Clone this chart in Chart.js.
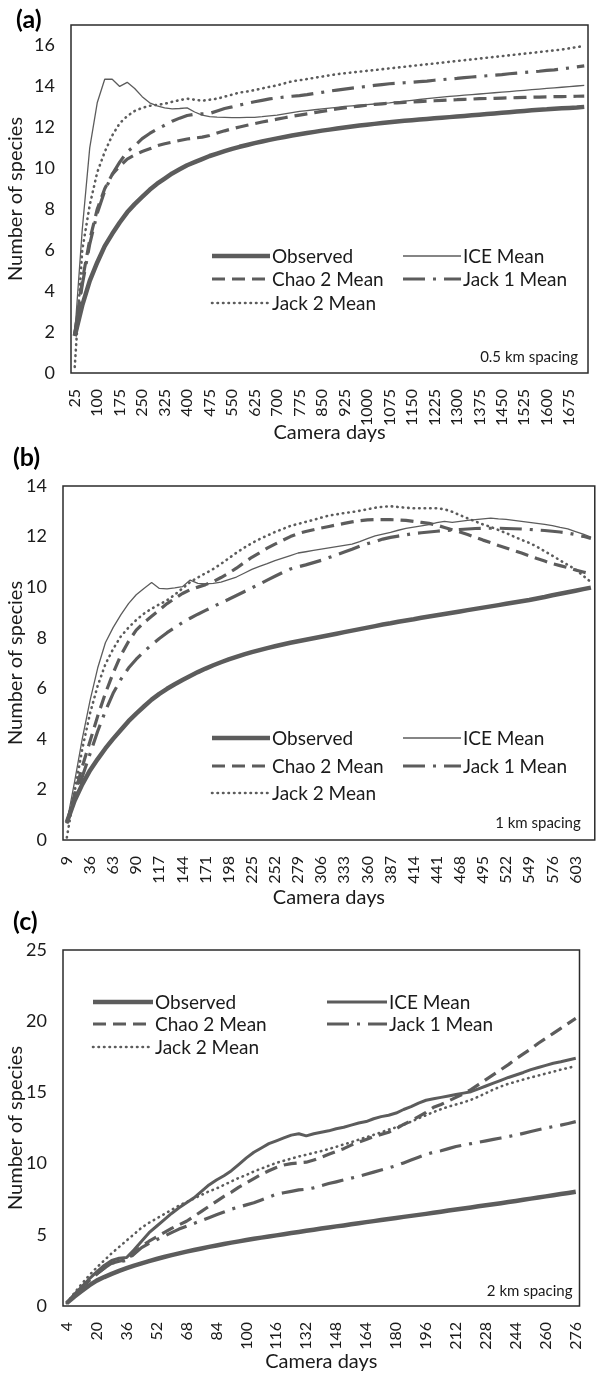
<!DOCTYPE html>
<html>
<head>
<meta charset="utf-8">
<script src="https://cdn.jsdelivr.net/npm/chart.js@4.4.0/dist/chart.umd.min.js"></script>
<style>
  body { margin: 0; background: #fff; }
  #page { position: relative; width: 603px; height: 1375px; }
  .panel { position: absolute; left: 0; width: 603px; }
  .tag { position: absolute; font: bold 25px Lato, sans-serif; color: #000; }
</style>
</head>
<body>
<div id="page">
  <div class="panel" style="top:0;height:445px"><canvas id="chartA"></canvas></div>
  <div class="panel" style="top:445px;height:470px"><canvas id="chartB"></canvas></div>
  <div class="panel" style="top:915px;height:460px"><canvas id="chartC"></canvas></div>
  <div class="tag" style="left:16px;top:3px">(a)</div>
  <div class="tag" style="left:13px;top:441px">(b)</div>
  <div class="tag" style="left:13px;top:905px">(c)</div>
</div>
<script>
// ---- (a) 0.5 km spacing ----
const daysA = [25,50,75,100,125,150,175,200,225,250,275,300,325,350,375,400,425,450,475,500,525,550,575,600,625,650,675,700,725,750,775,800,825,850,875,900,925,950,975,1000,1025,1050,1075,1100,1125,1150,1175,1200,1225,1250,1275,1300,1325,1350,1375,1400,1425,1450,1475,1500,1525,1550,1575,1600,1625,1650,1675,1700,1725];
const ticksA = [25,100,175,250,325,400,475,550,625,700,775,850,925,1000,1075,1150,1225,1300,1375,1450,1525,1600,1675];
const observedA = [1.8,3.3,4.5,5.4,6.2,6.8,7.35,7.85,8.25,8.6,8.95,9.25,9.5,9.75,9.95,10.15,10.3,10.45,10.6,10.72,10.84,10.95,11.05,11.14,11.23,11.31,11.39,11.46,11.53,11.6,
  11.66,11.72,11.78,11.84,11.89,11.94,11.99,12.04,12.09,12.13,12.17,12.21,12.25,12.29,12.32,12.35,12.38,12.41,12.44,12.47,12.5,12.53,12.56,12.59,12.62,12.65,12.68,12.71,12.74,12.77,12.8,12.83,12.86,12.88,12.91,12.93,12.95,12.97,13.0];
const iceA = [1.9,7.0,11.0,13.2,14.35,14.35,14.0,14.2,13.9,13.5,13.2,13.05,12.95,12.9,12.92,12.95,12.75,12.6,12.52,12.5,12.49,12.48,12.48,12.49,12.49,12.52,12.56,12.6,12.66,12.72,
  12.78,12.82,12.86,12.9,12.94,12.98,13.02,13.05,13.08,13.11,13.14,13.17,13.2,13.24,13.28,13.32,13.36,13.4,13.44,13.48,13.51,13.54,13.57,13.6,13.63,13.66,13.69,13.72,13.75,13.78,13.81,13.84,13.87,13.9,13.93,13.96,13.99,14.02,14.05];
const chao2A = [1.9,4.5,6.5,8.0,9.0,9.7,10.1,10.45,10.65,10.82,10.95,11.1,11.2,11.28,11.36,11.43,11.48,11.52,11.6,11.72,11.83,11.93,12.02,12.1,12.18,12.26,12.33,12.4,12.47,12.54,
  12.6,12.66,12.72,12.78,12.84,12.9,12.95,13.0,13.04,13.08,13.12,13.15,13.18,13.2,13.22,13.24,13.26,13.28,13.3,13.32,13.34,13.35,13.37,13.38,13.4,13.41,13.42,13.43,13.44,13.45,13.46,13.47,13.48,13.49,13.5,13.5,13.51,13.52,13.53];
const jack1A = [1.9,4.3,6.3,7.8,8.9,9.7,10.3,10.8,11.1,11.45,11.7,11.92,12.1,12.3,12.45,12.58,12.64,12.66,12.68,12.8,12.92,13.0,13.09,13.17,13.25,13.32,13.39,13.44,13.48,13.52,
  13.55,13.6,13.66,13.71,13.77,13.82,13.87,13.92,13.96,14.0,14.05,14.09,14.13,14.15,14.18,14.2,14.23,14.26,14.3,14.33,14.36,14.39,14.43,14.46,14.49,14.52,14.55,14.58,14.62,14.65,14.68,14.71,14.74,14.78,14.81,14.85,14.9,14.95,15.0];
const jack2A = [0.3,6.0,8.2,9.8,10.8,11.6,12.2,12.55,12.8,12.95,13.05,13.1,13.15,13.25,13.33,13.4,13.35,13.3,13.35,13.4,13.5,13.6,13.7,13.75,13.82,13.9,13.98,14.05,14.15,14.25,
  14.3,14.36,14.42,14.48,14.54,14.6,14.64,14.68,14.72,14.76,14.8,14.84,14.88,14.92,14.96,15.0,15.04,15.08,15.12,15.16,15.2,15.24,15.28,15.32,15.36,15.4,15.44,15.48,15.52,15.56,15.6,15.64,15.68,15.72,15.76,15.8,15.86,15.92,15.98];

// ---- (b) 1 km spacing ----
const daysB = [9,18,27,36,45,54,63,72,81,90,99,108,117,126,135,144,153,162,171,180,189,198,207,216,225,234,243,252,261,270,279,288,297,306,315,324,333,342,351,360,369,378,387,396,405,414,423,432,441,450,459,468,477,486,495,504,513,522,531,540,549,558,567,576,585,594,603,612,621];
const ticksB = [9,36,63,90,117,144,171,198,225,252,279,306,333,360,387,414,441,468,495,522,549,576,603];
const observedB = [0.7,1.55,2.2,2.75,3.2,3.62,4.0,4.35,4.7,5.0,5.28,5.55,5.78,5.98,6.16,6.33,6.49,6.64,6.78,6.91,7.03,7.14,7.24,7.34,7.43,7.51,7.59,7.66,7.73,7.8,
  7.86,7.92,7.98,8.04,8.1,8.16,8.22,8.28,8.34,8.4,8.46,8.52,8.57,8.63,8.68,8.73,8.79,8.84,8.89,8.94,8.99,9.04,9.09,9.14,9.19,9.24,9.29,9.34,9.39,9.44,9.49,9.55,9.61,9.68,9.74,9.8,9.86,9.92,9.98];
const iceB = [0.7,2.3,4.0,5.5,6.8,7.8,8.4,8.9,9.35,9.7,9.95,10.18,9.95,9.93,9.97,10.02,10.28,10.15,10.13,10.15,10.2,10.3,10.4,10.55,10.7,10.82,10.93,11.05,11.15,11.25,
  11.35,11.4,11.45,11.5,11.55,11.6,11.65,11.7,11.8,11.92,12.03,12.1,12.17,12.25,12.32,12.37,12.42,12.47,12.55,12.6,12.56,12.6,12.64,12.67,12.7,12.73,12.7,12.68,12.64,12.6,12.56,12.52,12.48,12.43,12.36,12.3,12.2,12.1,11.98];
const chao2B = [0.66,1.8,2.9,3.9,4.9,5.8,6.6,7.3,7.85,8.3,8.6,8.85,9.1,9.35,9.55,9.75,9.9,10.0,10.1,10.22,10.38,10.55,10.75,10.97,11.18,11.36,11.54,11.7,11.85,12.0,
  12.12,12.2,12.27,12.34,12.4,12.46,12.52,12.58,12.63,12.66,12.67,12.67,12.67,12.66,12.64,12.6,12.56,12.52,12.45,12.36,12.27,12.18,12.08,11.97,11.86,11.76,11.65,11.55,11.45,11.35,11.24,11.13,11.03,10.93,10.85,10.77,10.68,10.6,10.52];
const jack1B = [0.66,1.6,2.5,3.4,4.3,5.1,5.8,6.35,6.8,7.15,7.45,7.72,7.97,8.2,8.4,8.6,8.77,8.93,9.08,9.23,9.38,9.52,9.67,9.82,9.97,10.12,10.28,10.43,10.58,10.72,
  10.8,10.88,10.97,11.06,11.17,11.28,11.39,11.5,11.62,11.72,11.8,11.9,11.97,12.02,12.07,12.12,12.15,12.18,12.21,12.24,12.26,12.28,12.3,12.32,12.33,12.33,12.33,12.32,12.31,12.3,12.28,12.26,12.24,12.21,12.18,12.14,12.08,12.01,11.93];
const jack2B = [0.1,1.9,3.6,5.0,6.1,6.95,7.55,8.05,8.4,8.7,8.95,9.15,9.32,9.48,9.7,9.95,10.2,10.38,10.55,10.72,10.92,11.14,11.36,11.56,11.74,11.9,12.04,12.18,12.3,12.42,
  12.5,12.58,12.66,12.75,12.83,12.88,12.93,12.97,13.02,13.08,13.14,13.18,13.2,13.17,13.14,13.12,13.12,13.12,13.12,13.08,12.98,12.85,12.72,12.6,12.48,12.38,12.26,12.14,12.0,11.87,11.75,11.6,11.42,11.24,11.06,10.88,10.7,10.45,10.2];

// ---- (c) 2 km spacing ----
const daysC = [4,8,12,16,20,24,28,32,36,40,44,48,52,56,60,64,68,72,76,80,84,88,92,96,100,104,108,112,116,120,124,128,132,136,140,144,148,152,156,160,164,168,172,176,180,184,188,192,196,200,204,208,212,216,220,224,228,232,236,240,244,248,252,256,260,264,268,272,276];
const ticksC = [4,20,36,52,68,84,100,116,132,148,164,180,196,212,228,244,260,276];
const observedC = [0.2,0.65,1.05,1.45,1.78,2.03,2.26,2.47,2.66,2.84,3.0,3.15,3.3,3.44,3.57,3.7,3.82,3.93,4.04,4.15,4.25,4.35,4.45,4.54,4.63,4.72,4.8,4.88,4.96,5.04,
  5.12,5.2,5.28,5.36,5.44,5.51,5.59,5.66,5.74,5.81,5.89,5.96,6.04,6.11,6.18,6.26,6.33,6.4,6.47,6.55,6.62,6.7,6.77,6.85,6.92,7.0,7.07,7.15,7.22,7.3,7.38,7.46,7.54,7.62,7.7,7.78,7.86,7.94,8.02];
const iceC = [0.2,0.8,1.35,1.9,2.4,2.85,3.2,3.35,3.4,3.95,4.55,5.15,5.6,6.05,6.5,6.9,7.25,7.6,8.05,8.5,8.85,9.15,9.5,9.95,10.4,10.8,11.1,11.4,11.6,11.8,
  12.0,12.1,11.95,12.1,12.2,12.3,12.45,12.55,12.7,12.85,12.95,13.15,13.3,13.4,13.55,13.8,14.0,14.25,14.45,14.55,14.65,14.75,14.85,14.95,15.05,15.25,15.45,15.65,15.85,16.05,16.22,16.4,16.6,16.75,16.9,17.05,17.15,17.28,17.4];
const chao2C = [0.2,0.75,1.3,1.8,2.25,2.65,3.0,3.15,3.25,3.7,4.2,4.55,4.85,5.15,5.45,5.7,5.95,6.3,6.65,7.0,7.35,7.7,8.0,8.35,8.65,8.95,9.25,9.5,9.72,9.9,
  10.0,10.05,10.1,10.25,10.45,10.65,10.85,11.05,11.3,11.5,11.7,11.9,12.05,12.2,12.45,12.75,13.0,13.3,13.6,13.95,14.15,14.4,14.65,14.9,15.2,15.55,15.9,16.25,16.6,16.95,17.35,17.7,18.05,18.45,18.8,19.15,19.5,19.85,20.2];
const jack1C = [0.2,0.75,1.3,1.8,2.25,2.65,3.0,3.1,3.2,3.65,4.1,4.4,4.65,4.9,5.15,5.4,5.6,5.8,6.0,6.2,6.4,6.6,6.8,6.95,7.1,7.25,7.45,7.65,7.85,7.95,
  8.05,8.15,8.2,8.3,8.45,8.6,8.72,8.85,8.98,9.1,9.25,9.4,9.55,9.7,9.85,10.05,10.25,10.45,10.65,10.8,10.9,11.05,11.2,11.3,11.4,11.5,11.6,11.7,11.8,11.9,12.0,12.12,12.25,12.38,12.5,12.6,12.7,12.82,12.95];
const jack2C = [0.2,0.9,1.55,2.15,2.7,3.2,3.7,4.15,4.6,5.05,5.5,5.85,6.15,6.45,6.75,7.05,7.3,7.55,7.8,8.05,8.25,8.5,8.75,9.0,9.2,9.45,9.65,9.85,10.05,10.2,
  10.35,10.5,10.62,10.75,10.88,11.02,11.18,11.35,11.5,11.68,11.85,12.02,12.2,12.38,12.55,12.74,12.94,13.18,13.4,13.62,13.82,14.0,14.15,14.3,14.48,14.7,14.95,15.2,15.42,15.6,15.75,15.9,16.05,16.18,16.32,16.45,16.6,16.72,16.85];

const seriesNames = ['Observed', 'ICE Mean', 'Chao 2 Mean', 'Jack 1 Mean', 'Jack 2 Mean'];

Chart.defaults.font.family = 'Lato, sans-serif';
Chart.defaults.color = '#1a1a1a';

const LINE = '#5c5c5c';

function makeSets(series, iceWidth) {
  const styles = [
    { borderWidth: 4.5, borderDash: [] },
    { borderWidth: iceWidth, borderDash: [] },
    { borderWidth: 3.2, borderDash: [13, 7] },
    { borderWidth: 3.2, borderDash: [22, 8, 3, 8] },
    { borderWidth: 2.6, borderDash: [0.5, 5], borderCapStyle: 'round' }
  ];
  return series.map((d, k) => Object.assign({
    label: seriesNames[k],
    data: d,
    borderColor: LINE,
    pointRadius: 0,
    tension: 0,
    fill: false,
    borderJoinStyle: 'round'
  }, styles[k]));
}

// legend drawn inside the plot area in two columns, plus the spacing note
const insideLegend = {
  id: 'insideLegend',
  afterDraw(chart, args, o) {
    const { ctx, chartArea } = chart;
    ctx.save();
    ctx.textBaseline = 'middle';
    chart.data.datasets.forEach((ds, k) => {
      const x = chartArea.left + o.cols[k % 2];
      const y = chartArea.top + o.rows[Math.floor(k / 2)];
      ctx.beginPath();
      ctx.strokeStyle = ds.borderColor;
      ctx.lineWidth = ds.borderWidth;
      ctx.lineCap = ds.borderCapStyle || 'butt';
      ctx.setLineDash(ds.borderDash || []);
      ctx.moveTo(x, y);
      ctx.lineTo(x + o.sample, y);
      ctx.stroke();
      ctx.setLineDash([]);
      ctx.fillStyle = '#1a1a1a';
      ctx.font = '19px Lato, sans-serif';
      ctx.textAlign = 'left';
      ctx.fillText(ds.label, x + o.sample + 2, y + 1);
    });
    ctx.font = '15px Lato, sans-serif';
    ctx.textAlign = 'right';
    ctx.fillText(o.note, chartArea.right - o.noteRight, chartArea.bottom - o.noteBottom);
    ctx.restore();
  }
};

const frame = {
  id: 'frame',
  afterDraw(chart) {
    const { ctx, chartArea: a } = chart;
    ctx.save();
    ctx.strokeStyle = '#2b2b2b';
    ctx.lineWidth = 1.5;
    ctx.strokeRect(a.left, a.top, a.right - a.left, a.bottom - a.top);
    ctx.restore();
  }
};

function makeChart(id, cfg) {
  return new Chart(document.getElementById(id), {
    type: 'line',
    data: { labels: cfg.days, datasets: makeSets(cfg.series, cfg.iceWidth) },
    plugins: [insideLegend, frame],
    options: {
      responsive: true,
      maintainAspectRatio: false,
      animation: false,
      layout: { padding: cfg.padding },
      plugins: {
        legend: { display: false },
        tooltip: { enabled: false },
        insideLegend: cfg.legend
      },
      scales: {
        x: {
          type: 'category',
          offset: true,
          grid: { display: false },
          border: { display: false },
          afterFit: s => { s.height = cfg.xHeight; },
          ticks: {
            autoSkip: false,
            minRotation: 90,
            maxRotation: 90,
            padding: 8,
            font: { size: 16 },
            callback: function (v, i) {
              const d = cfg.days[i];
              return cfg.ticks.includes(d) ? String(d) : null;
            }
          },
          title: { display: true, text: 'Camera days', font: { size: 20 }, padding: { top: 0, bottom: cfg.titleBottom } }
        },
        y: {
          min: 0,
          max: cfg.yMax,
          grid: { display: false },
          border: { display: false },
          afterFit: s => { s.width = cfg.yWidth; },
          ticks: { stepSize: cfg.yStep, includeBounds: false, padding: 8, font: { size: 18 } },
          title: { display: true, text: 'Number of species', font: { size: 20 }, padding: { top: 4, bottom: 0 } }
        }
      }
    }
  });
}

makeChart('chartA', {
  days: daysA, ticks: ticksA,
  series: [observedA, iceA, chao2A, jack1A, jack2A], iceWidth: 1.3,
  yMax: 17, yStep: 2, yWidth: 71, xHeight: 72, titleBottom: 0,
  padding: { top: 25, right: 15, left: 0, bottom: 0 },
  legend: { cols: [141, 332], rows: [231, 254, 278], sample: 58, note: '0.5 km spacing', noteRight: 10, noteBottom: 16 }
});

makeChart('chartB', {
  days: daysB, ticks: ticksB,
  series: [observedB, iceB, chao2B, jack1B, jack2B], iceWidth: 1.3,
  yMax: 14, yStep: 2, yWidth: 63, xHeight: 75, titleBottom: 5,
  padding: { top: 41, right: 8, left: 0, bottom: 0 },
  legend: { cols: [149, 340], rows: [252, 280, 307], sample: 58, note: '1 km spacing', noteRight: 14, noteBottom: 17 }
});

makeChart('chartC', {
  days: daysC, ticks: ticksC,
  series: [observedC, iceC, chao2C, jack1C, jack2C], iceWidth: 3,
  yMax: 25, yStep: 5, yWidth: 63, xHeight: 69, titleBottom: 1,
  padding: { top: 35, right: 6, left: 0, bottom: 0 },
  legend: { cols: [30, 264], rows: [52, 74, 97], sample: 60, note: '2 km spacing', noteRight: 7, noteBottom: 15 }
});
</script>
</body>
</html>
